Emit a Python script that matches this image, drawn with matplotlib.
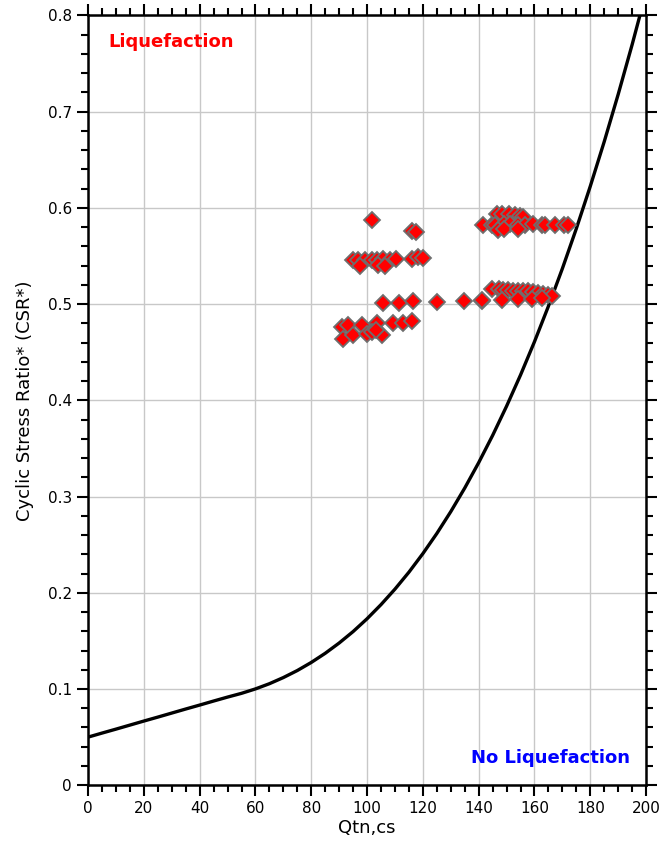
import matplotlib
matplotlib.use('Agg')
import matplotlib.pyplot as plt
from matplotlib.ticker import MultipleLocator

# CRR boundary curve (Qtn,cs vs CSR*)
curve_q = [0, 5, 10, 15, 20, 25, 30, 35, 40, 45, 50, 55, 60, 65, 70, 75, 80,
           85, 90, 95, 100, 105, 110, 115, 120, 125, 130, 135, 140, 145, 150,
           155, 160, 165, 170, 175, 180, 185, 190, 195, 200]
curve_csr = [0.050, 0.0542, 0.0583, 0.0625, 0.0667, 0.0708, 0.0750, 0.0792,
             0.0833, 0.0875, 0.0916, 0.0955, 0.1001, 0.1055, 0.1119, 0.1192,
             0.1276, 0.1371, 0.1478, 0.1597, 0.1730, 0.1877, 0.2038, 0.2214,
             0.2407, 0.2616, 0.2843, 0.3088, 0.3352, 0.3635, 0.3939, 0.4263,
             0.4609, 0.4978, 0.5369, 0.5784, 0.6224, 0.6688, 0.7179, 0.7696,
             0.8240]

# field points
pt_q = [101.8, 116.1, 117.6,
        94.8, 96.8, 99.4, 101.7, 103.5, 105.6, 108.2, 110.4, 116.0, 118.3, 120.2,
        97.5, 104.0, 106.5,
        105.6, 111.6, 116.6, 125.0, 134.8, 141.2,
        90.9, 93.3, 98.1, 103.5, 109.4, 113.0, 116.0,
        91.5, 95.1, 99.9, 105.2, 101.7, 103.2,
        146.5, 148.3, 150.7, 153.0, 154.8, 156.0,
        141.7, 144.7, 145.9, 148.9, 151.3, 154.2, 156.6, 159.6, 162.6, 163.8,
        167.4, 170.4, 172.1, 147.0, 149.0, 154.0,
        144.7, 147.1, 148.8, 150.6, 152.4, 154.2, 156.0, 157.8, 159.6, 161.4,
        163.2, 164.9, 166.2,
        141.1, 148.2, 154.2, 159.0, 162.6]
pt_csr = [0.587, 0.576, 0.575,
          0.546, 0.546, 0.546, 0.546, 0.546, 0.547, 0.546, 0.547, 0.547, 0.549, 0.548,
          0.540, 0.541, 0.540,
          0.501, 0.501, 0.503, 0.502, 0.503, 0.503,
          0.476, 0.478, 0.478, 0.480, 0.480, 0.480, 0.482,
          0.464, 0.468, 0.469, 0.468, 0.471, 0.473,
          0.593, 0.593, 0.593, 0.592, 0.591, 0.590,
          0.582, 0.582, 0.582, 0.583, 0.583, 0.582, 0.582, 0.583, 0.582, 0.582,
          0.582, 0.582, 0.582, 0.577, 0.578, 0.578,
          0.516, 0.516, 0.515, 0.515, 0.514, 0.514, 0.513, 0.513, 0.512, 0.511,
          0.510, 0.509, 0.508,
          0.504, 0.504, 0.505, 0.505, 0.506]

plt.rcParams['font.family'] = ['DejaVu Sans']

fig = plt.figure(figsize=(6.62, 8.48), dpi=100)
ax = fig.add_axes([0.133, 0.074, 0.843, 0.908])

ax.plot(curve_q, curve_csr, color='black', lw=2.4, zorder=3)
ax.plot(pt_q, pt_csr, ls='none', marker='D', ms=8.5, mfc='red',
        mec='#6e6e6e', mew=1.3, zorder=4)

ax.set_xlim(0, 200)
ax.set_ylim(0, 0.8)
ax.xaxis.set_major_locator(MultipleLocator(20))
ax.xaxis.set_minor_locator(MultipleLocator(5))
ax.yaxis.set_major_locator(MultipleLocator(0.1))
ax.yaxis.set_minor_locator(MultipleLocator(0.02))
ax.set_yticklabels(['0' if v == 0 else f'{v:.1f}' for v in ax.get_yticks()])

ax.grid(True, which='major', color='#c8c8c8', lw=1)
ax.set_axisbelow(True)
for s in ax.spines.values():
    s.set_linewidth(1.8)
ax.tick_params(which='both', direction='out', top=True, right=True,
               width=1.5, labelsize=11)
ax.tick_params(which='major', length=8)
ax.tick_params(which='minor', length=5)

ax.set_xlabel('Qtn,cs', fontsize=13, labelpad=2)
ax.set_ylabel('Cyclic Stress Ratio* (CSR*)', fontsize=13, labelpad=10)

ax.text(0.036, 0.965, 'Liquefaction', transform=ax.transAxes, color='red',
        fontsize=13, fontweight='bold', va='center', ha='left')
ax.text(0.971, 0.035, 'No Liquefaction', transform=ax.transAxes, color='blue',
        fontsize=13, fontweight='bold', va='center', ha='right')

fig.savefig('out.png', dpi=100)
